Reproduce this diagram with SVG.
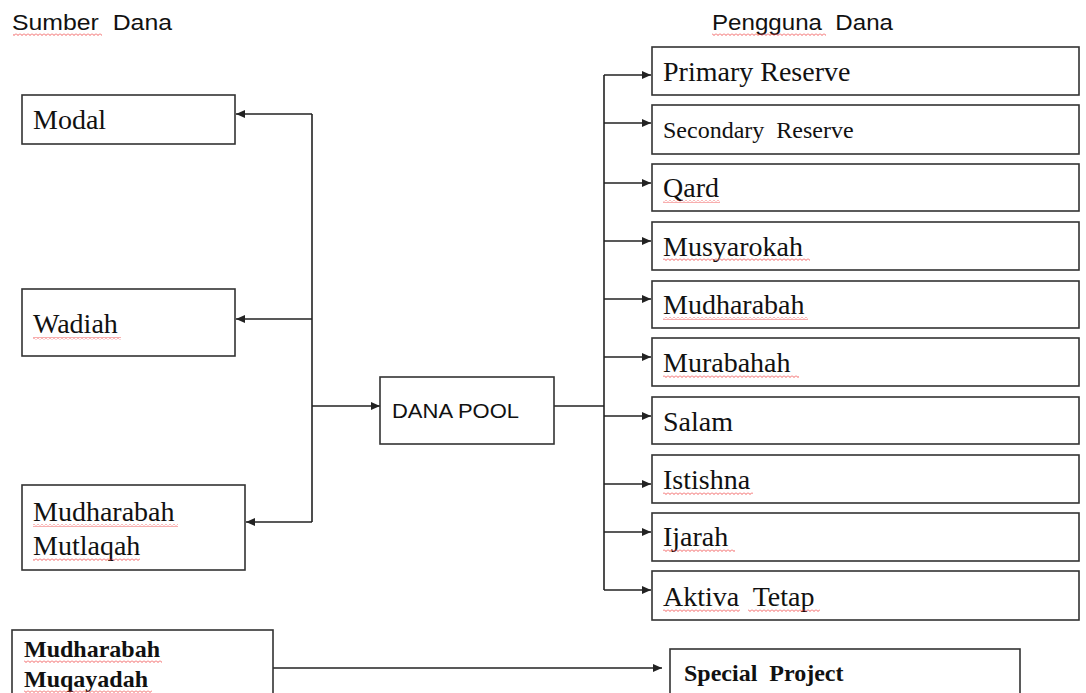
<svg xmlns="http://www.w3.org/2000/svg" width="1086" height="693" viewBox="0 0 1086 693">
<style>
.box{fill:#fff;stroke:#333;stroke-width:1.6}
.lbl{font-family:"Liberation Serif","Times New Roman",serif;font-size:28px;fill:#111;white-space:pre}
.sm{font-size:24px}
.bold{font-weight:bold;font-size:24px}
.sans{font-family:"Liberation Sans",Arial,sans-serif;font-size:22px;fill:#111;white-space:pre}
.ln{fill:none;stroke:#222;stroke-width:1.6}
.arr{marker-end:url(#ah)}
.sq{fill:url(#wave)}
</style>
<defs>
<marker id="ah" markerUnits="userSpaceOnUse" markerWidth="10" markerHeight="8" refX="9" refY="4" orient="auto">
<path d="M0,0 L9,4 L0,8 z" fill="#222"/>
</marker>
<pattern id="wave" width="4" height="3" patternUnits="userSpaceOnUse">
<path d="M0,0.5 L2,2.5 L4,0.5" fill="none" stroke="#e33" stroke-width="0.8"/>
</pattern>
</defs>

<text class="sans" x="12" y="30" textLength="160" lengthAdjust="spacingAndGlyphs">Sumber  Dana</text>
<rect class="sq" x="13" y="33" width="89" height="3"/>
<text class="sans" x="712" y="30" textLength="181" lengthAdjust="spacingAndGlyphs">Pengguna  Dana</text>
<rect class="sq" x="712" y="33" width="114" height="3"/>

<g id="connectors">
<path class="ln" d="M312,114 V522"/>
<path class="ln arr" d="M312,114 H236"/>
<path class="ln arr" d="M312,319 H236"/>
<path class="ln arr" d="M312,522 H246"/>
<path class="ln arr" d="M312,406 H380"/>
<path class="ln" d="M554,406 H604"/>
<path class="ln" d="M604,75 V590"/>
<path class="ln arr" d="M604,75 H651"/>
<path class="ln arr" d="M604,123 H651"/>
<path class="ln arr" d="M604,183 H651"/>
<path class="ln arr" d="M604,241 H651"/>
<path class="ln arr" d="M604,299 H651"/>
<path class="ln arr" d="M604,357 H651"/>
<path class="ln arr" d="M604,416 H651"/>
<path class="ln arr" d="M604,484 H651"/>
<path class="ln arr" d="M604,532 H651"/>
<path class="ln arr" d="M604,590 H651"/>
<path class="ln arr" d="M273,668 H662"/>
</g>

<g id="modal">
<rect class="box" x="22" y="95" width="213" height="49"/>
<text class="lbl" x="33" y="129">Modal</text>
</g>
<g id="wadiah">
<rect class="box" x="22" y="289" width="213" height="67"/>
<text class="lbl" x="33" y="333">Wadiah</text>
<rect class="sq" x="33" y="337" width="88" height="3"/>
</g>
<g id="mutlaqah">
<rect class="box" x="22" y="485" width="223" height="85"/>
<text class="lbl" x="33" y="521">Mudharabah</text>
<text class="lbl" x="33" y="555">Mutlaqah</text>
<rect class="sq" x="33" y="524" width="145" height="3"/>
<rect class="sq" x="33" y="558" width="107" height="3"/>
</g>
<g id="danapool">
<rect class="box" x="380" y="377" width="174" height="67"/>
<text class="sans" x="392" y="418" style="font-size:21px" textLength="127" lengthAdjust="spacingAndGlyphs">DANA POOL</text>
</g>

<g id="primary">
<rect class="box" x="652" y="47" width="427" height="48"/>
<text class="lbl" x="663" y="81">Primary Reserve</text>
</g>
<g id="secondary">
<rect class="box" x="652" y="105" width="427" height="49"/>
<text class="lbl sm" x="663" y="138">Secondary  Reserve</text>
</g>
<g id="qard">
<rect class="box" x="652" y="164" width="427" height="47"/>
<text class="lbl" x="663" y="197">Qard</text>
<rect class="sq" x="663" y="200" width="57" height="3"/>
</g>
<g id="musyarokah">
<rect class="box" x="652" y="222" width="427" height="48"/>
<text class="lbl" x="663" y="256">Musyarokah</text>
<rect class="sq" x="663" y="258" width="147" height="3"/>
</g>
<g id="mudharabah">
<rect class="box" x="652" y="281" width="427" height="47"/>
<text class="lbl" x="663" y="314">Mudharabah</text>
<rect class="sq" x="663" y="317" width="145" height="3"/>
</g>
<g id="murabahah">
<rect class="box" x="652" y="338" width="427" height="48"/>
<text class="lbl" x="663" y="372">Murabahah</text>
<rect class="sq" x="663" y="375" width="136" height="3"/>
</g>
<g id="salam">
<rect class="box" x="652" y="397" width="427" height="47"/>
<text class="lbl" x="663" y="431">Salam</text>
</g>
<g id="istishna">
<rect class="box" x="652" y="455" width="427" height="48"/>
<text class="lbl" x="663" y="489">Istishna</text>
<rect class="sq" x="663" y="492" width="90" height="3"/>
</g>
<g id="ijarah">
<rect class="box" x="652" y="513" width="427" height="48"/>
<text class="lbl" x="663" y="546">Ijarah</text>
<rect class="sq" x="663" y="549" width="72" height="3"/>
</g>
<g id="aktiva">
<rect class="box" x="652" y="571" width="427" height="49"/>
<text class="lbl" x="663" y="606">Aktiva  Tetap</text>
<rect class="sq" x="663" y="609" width="77" height="3"/>
<rect class="sq" x="748" y="609" width="72" height="3"/>
</g>

<g id="muqayadah">
<rect class="box" x="12" y="630" width="261" height="70"/>
<text class="lbl bold" x="24" y="657">Mudharabah</text>
<text class="lbl bold" x="24" y="687">Muqayadah</text>
<rect class="sq" x="24" y="660" width="138" height="3"/>
<rect class="sq" x="24" y="690" width="128" height="3"/>
</g>
<g id="special">
<rect class="box" x="670" y="649" width="350" height="60"/>
<text class="lbl bold" x="684" y="681">Special  Project</text>
</g>
</svg>
